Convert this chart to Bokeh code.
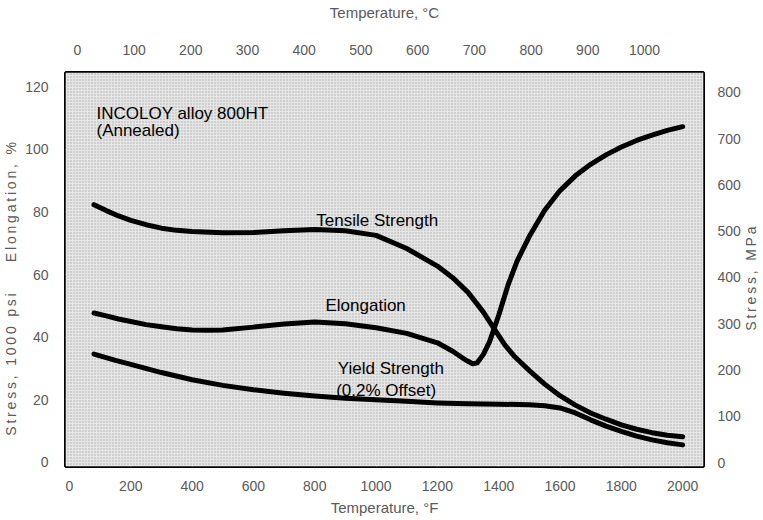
import math
from bokeh.plotting import figure
from bokeh.layouts import row
from bokeh.models import Range1d, LinearAxis, Label, FixedTicker, BoxAnnotation
from bokeh.embed import file_html
from bokeh.resources import INLINE

# ---- data (temperature in °F, stress in ksi, elongation in %) ----
temp_tensile = [80, 120, 160, 200, 250, 300, 350, 400, 500, 600, 700, 800, 900, 1000, 1100,
                1200, 1250, 1300, 1350, 1385, 1420, 1450, 1500, 1550, 1600, 1650, 1700, 1750,
                1800, 1850, 1900, 1950, 2000]
tensile = [82.3, 80.4, 78.7, 77.3, 75.9, 74.8, 74.1, 73.7, 73.3, 73.4, 74.0, 74.4, 74.0, 72.5, 68.3,
           62.7, 59.0, 54.3, 48.0, 42.7, 37.5, 34.0, 29.3, 25.0, 21.3, 18.3, 15.8, 13.8,
           12.0, 10.6, 9.5, 8.7, 8.2]

temp_elong = [80, 120, 160, 200, 250, 300, 350, 400, 450, 500, 600, 700, 800, 900, 1000, 1100,
              1200, 1250, 1280, 1300, 1315, 1330, 1350, 1370, 1385, 1400, 1430, 1460, 1500,
              1550, 1600, 1650, 1700, 1750, 1800, 1850, 1900, 1950, 2000]
elongation = [47.7, 46.8, 45.8, 45.0, 44.0, 43.3, 42.7, 42.3, 42.2, 42.3, 43.2, 44.2, 44.8, 44.3,
              43.0, 41.2, 38.2, 35.5, 33.5, 32.3, 31.5, 31.8, 34.5, 38.5, 42.7, 47.0, 56.5,
              64.3, 72.2, 80.5, 86.8, 91.5, 95.2, 98.2, 100.7, 102.8, 104.5, 106.0, 107.2]

temp_yield = [80, 150, 200, 300, 400, 500, 600, 700, 800, 900, 1000, 1100, 1200, 1300, 1400,
              1500, 1550, 1600, 1650, 1700, 1750, 1800, 1850, 1900, 1950, 2000]
yield_strength = [34.6, 32.6, 31.3, 28.7, 26.4, 24.6, 23.2, 22.1, 21.2, 20.5, 20.0, 19.5, 19.0,
                  18.7, 18.6, 18.4, 18.1, 17.4, 15.8, 13.6, 11.6, 9.9, 8.4, 7.2, 6.3, 5.6]

f_ticks = [0, 200, 400, 600, 800, 1000, 1200, 1400, 1600, 1800, 2000]
c_ticks = [0, 100, 200, 300, 400, 500, 600, 700, 800, 900, 1000]
left_ticks = [0, 20, 40, 60, 80, 100, 120]
mpa_ticks = [0, 100, 200, 300, 400, 500, 600, 700, 800]

FONT = "Liberation Sans"
TICK_COLOR = "#5a5a5a"
NB = "\u00a0"
THIN = "\u2009"

def spaced(s):
    # widen letter spacing like the original typesetting
    return THIN.join(s)

p = figure(width=743, height=520, output_backend="svg", toolbar_location=None,
           x_range=Range1d(-13, 2068), y_range=Range1d(-1.3, 124.5),
           min_border_left=63, min_border_right=33, min_border_top=72, min_border_bottom=54,
           background_fill_color="#d8d8d8", border_fill_color="white")

p.extra_x_ranges = {"c": Range1d(-20.9, 1104)}
p.extra_y_ranges = {"mpa": Range1d(-8.6, 843)}

# stipple texture
p.add_layout(BoxAnnotation(fill_color="#e6e6e6", fill_alpha=1.0, line_color=None,
                           hatch_pattern="dot", hatch_color="#9a9a9a", hatch_scale=3,
                           hatch_alpha=0.8, level="underlay"))

p.outline_line_color = "black"
p.outline_line_width = 3

def style_axis(ax):
    ax.axis_line_color = None
    ax.major_tick_line_color = None
    ax.minor_tick_line_color = None
    ax.major_label_text_font = FONT
    ax.major_label_text_font_size = "14px"
    ax.major_label_text_color = TICK_COLOR
    ax.axis_label_text_font = FONT
    ax.axis_label_text_font_size = "14px"
    ax.axis_label_text_font_style = "normal"
    ax.axis_label_text_color = TICK_COLOR

# bottom axis
xa = p.xaxis[0]
xa.ticker = FixedTicker(ticks=f_ticks)
xa.axis_label = "Temperature, °F"
style_axis(xa)
xa.axis_label_text_font_size = "15px"
xa.major_label_standoff = 8
xa.axis_label_standoff = 5

# left axis
ya = p.yaxis[0]
ya.ticker = FixedTicker(ticks=left_ticks)
ya.axis_label = spaced("Stress, 1000 psi") + NB * 8 + spaced("Elongation, %") + NB * 10
style_axis(ya)
ya.major_label_standoff = 11
ya.axis_label_standoff = 3

# top axis (°C)
top = LinearAxis(x_range_name="c", ticker=FixedTicker(ticks=c_ticks),
                 axis_label="Temperature, °C")
style_axis(top)
top.axis_label_text_font_size = "15px"
top.major_label_standoff = 12
top.axis_label_standoff = 21
p.add_layout(top, "above")

# right axis (MPa) - title drawn in a narrow strip next to the plot
right = LinearAxis(y_range_name="mpa", ticker=FixedTicker(ticks=mpa_ticks))
style_axis(right)
right.major_label_standoff = 8
p.add_layout(right, "right")

# grid
for g in (p.xgrid[0], p.ygrid[0]):
    g.grid_line_color = "#b0b0b0"
    g.grid_line_width = 1
    g.grid_line_dash = "1 1"
    g.level = "underlay"
p.xgrid[0].ticker = FixedTicker(ticks=f_ticks)
p.ygrid[0].ticker = FixedTicker(ticks=left_ticks)

# curves
for xs, ys in ((temp_tensile, tensile), (temp_elong, elongation), (temp_yield, yield_strength)):
    p.line(xs, ys, line_color="black", line_width=5, line_join="round", line_cap="round")

# annotations inside plot
def lab(x, y, t):
    p.add_layout(Label(x=x, y=y, text=t, text_font=FONT, text_font_size="17px",
                       text_color="black", text_align="left", text_baseline="middle"))

lab(88, 111.5, "INCOLOY alloy 800HT")
lab(88, 106.0, "(Annealed)")
lab(805, 77.2, "Tensile Strength")
lab(835, 50.1, "Elongation")
lab(875, 29.9, "Yield Strength")
lab(870, 23.0, "(0.2% Offset)")

# strip holding the right-hand axis title (reads bottom to top, like the original)
p2 = figure(width=20, height=520, output_backend="svg", toolbar_location=None,
            x_range=Range1d(0, 20), y_range=Range1d(0, 520),
            min_border=0, min_border_left=0, min_border_right=0,
            min_border_top=0, min_border_bottom=0,
            background_fill_color="white", border_fill_color="white")
p2.outline_line_color = None
p2.axis.visible = False
p2.grid.visible = False
p2.add_layout(Label(x=7, y=248, text=spaced("Stress, MPa"), text_font=FONT,
                    text_font_size="14px", text_color=TICK_COLOR, angle=math.pi / 2,
                    text_align="center", text_baseline="middle"))

layout = row(p, p2, spacing=0)
open("out.html", "w").write(file_html(layout, INLINE))
